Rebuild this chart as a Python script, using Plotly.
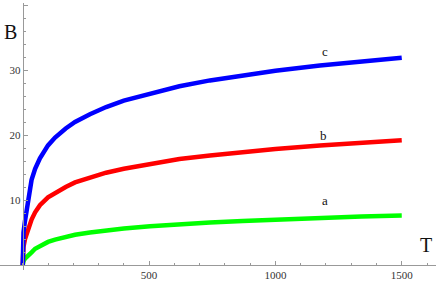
import plotly.graph_objects as go

# Data
T = [0, 1, 3, 9, 22, 35, 49, 68, 100, 128, 170, 207, 266, 330, 400, 504, 620, 741, 870, 1000, 1176, 1340, 1500]
B_c = [0, 3.0, 5.0, 6.8, 10.3, 13.1, 14.8, 16.4, 18.4, 19.6, 21.0, 22.0, 23.2, 24.3, 25.3, 26.4, 27.5, 28.4, 29.2, 29.9, 30.7, 31.35, 31.9]
B_b = [0, 1.5, 2.8, 4.0, 5.6, 7.0, 8.1, 9.2, 10.4, 11.1, 12.0, 12.7, 13.5, 14.2, 14.8, 15.5, 16.3, 16.85, 17.4, 17.85, 18.4, 18.8, 19.2]
B_a = [0, 0.3, 0.6, 1.0, 1.4, 1.95, 2.5, 2.95, 3.55, 3.9, 4.35, 4.65, 5.0, 5.33, 5.6, 5.95, 6.28, 6.54, 6.78, 7.0, 7.25, 7.45, 7.6]

curve_names = ["a", "b", "c"]
curve_values = [B_a, B_b, B_c]
curve_colors = ["#00FF00", "#FF0000", "#0000FF"]
label_pos = [(1196, 9.85), (1190, 19.85), (1196, 32.8)]

x_ticks = [500, 1000, 1500]
y_ticks = [10, 20, 30, 40]

fig = go.Figure()
for name, vals, col in zip(curve_names, curve_values, curve_colors):
    fig.add_trace(go.Scatter(x=T, y=vals, mode="lines", name=name,
                             line=dict(color=col, width=4.5),
                             showlegend=False))

for name, (lx, ly) in zip(curve_names, label_pos):
    fig.add_annotation(x=lx, y=ly, text=name, showarrow=False,
                       font=dict(family="Liberation Serif", size=13, color="#111"))

fig.add_annotation(x=-48, y=35.8, text="B", showarrow=False,
                   font=dict(family="Liberation Serif", size=20, color="#111"))
fig.add_annotation(x=1596, y=3.15, text="T", showarrow=False,
                   font=dict(family="Liberation Serif", size=20, color="#111"))

W, H = 436, 281
axis_col = "#999999"
fig.update_layout(
    width=W, height=H,
    margin=dict(l=0, r=0, t=0, b=0, autoexpand=False),
    paper_bgcolor="white", plot_bgcolor="white",
    xaxis=dict(range=[-90, 1635.6], domain=[0, 1], anchor="free", position=(H - 265) / H,
               showgrid=False, zeroline=False, showline=True, linecolor=axis_col, linewidth=1,
               ticks="inside", ticklen=4, tickcolor=axis_col, tickwidth=1,
               tickmode="array", tickvals=x_ticks, ticktext=[str(v) for v in x_ticks],
               tickfont=dict(family="Liberation Serif", size=11, color="#333"),
               minor=dict(dtick=100, tick0=0, ticklen=2.5, tickcolor=axis_col, ticks="inside")),
    yaxis=dict(range=[-0.77, 40.31], domain=[(H - 270) / H, (H - 3) / H], anchor="free",
               position=22.7 / W,
               showgrid=False, zeroline=False, showline=True, linecolor=axis_col, linewidth=1,
               ticks="inside", ticklen=4, tickcolor=axis_col, tickwidth=1,
               tickmode="array", tickvals=y_ticks, ticktext=[str(v) for v in y_ticks],
               tickfont=dict(family="Liberation Serif", size=11, color="#333"),
               minor=dict(dtick=2, tick0=0, ticklen=2.5, tickcolor=axis_col, ticks="inside")),
)

fig.write_html("out.html", config={"displayModeBar": False},
               post_script="document.body.style.margin='0';document.body.style.overflow='hidden';")
